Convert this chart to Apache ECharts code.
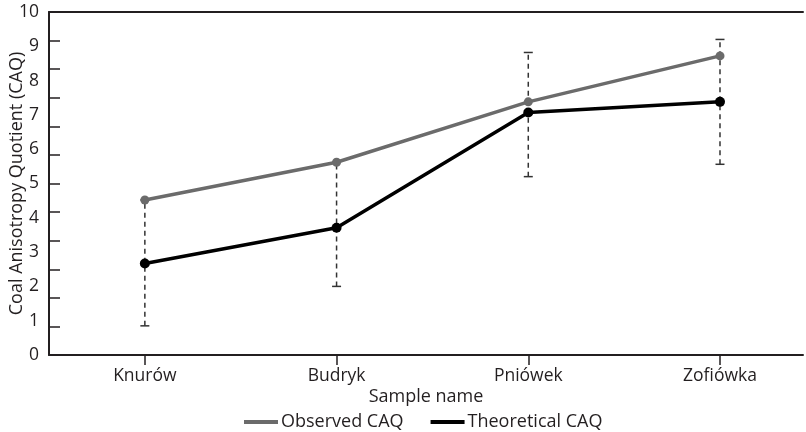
<!DOCTYPE html>
<html><head><meta charset="utf-8">
<script src="https://cdn.jsdelivr.net/npm/echarts@6/dist/echarts.min.js"></script>
<style>html,body{margin:0;padding:0;background:#fff}#c{width:806px;height:432px}</style>
</head><body><div id="c"></div>
<script>
const categories = ['Knurów', 'Budryk', 'Pniówek', 'Zofiówka'];
const observed = [4.52, 5.62, 7.38, 8.72];
const theoretical = [2.67, 3.71, 7.07, 7.38];
const errLow = [0.85, 2.0, 5.2, 5.56];
const errHigh = [4.52, 5.62, 8.82, 9.2];
const yTickLabels = [0, 1, 2, 3, 4, 5, 6, 7, 8, 9, 10];
const yMinorTicks = [0, 1, 2, 3, 4, 5, 6, 7, 8, 9, 10, 11, 12].map(k => k * 10 / 12);

const FONT = 'Open Sans';
const AX = '#231f20';
const chart = echarts.init(document.getElementById('c'), null, {renderer: 'canvas'});
const catIdx = categories.map((c, i) => i);

chart.setOption({
  animation: false,
  backgroundColor: '#fff',
  textStyle: {fontFamily: FONT},
  grid: {left: 49, right: 3, top: 12, bottom: 77, containLabel: false, outerBoundsMode: 'none'},
  legend: {
    left: 239, top: 408,
    itemWidth: 34, itemHeight: 4, itemGap: 27,
    textStyle: {fontFamily: FONT, fontSize: 18, color: '#231f20', padding: [0, 0, 0, -2]},
    data: [
      {name: 'Observed CAQ', icon: 'rect', itemStyle: {color: '#6b6b6b'}},
      {name: 'Theoretical CAQ', icon: 'rect', itemStyle: {color: '#000'}}
    ]
  },
  xAxis: [{
    type: 'value', min: -0.5, max: 3.433,
    name: 'Sample name', nameLocation: 'middle', nameGap: 33, nameMoveOverlap: false,
    nameTextStyle: {fontFamily: FONT, fontSize: 18, color: '#231f20'},
    axisLine: {show: true, onZero: false, lineStyle: {color: AX, width: 2}},
    axisTick: {show: true, inside: false, length: 10, lineStyle: {color: AX, width: 1.5}, customValues: catIdx},
    axisLabel: {fontFamily: FONT, fontSize: 17.5, color: '#231f20', margin: 12, customValues: catIdx,
      formatter: v => categories[Math.round(v)] || ''},
    splitLine: {show: false}
  }, {
    type: 'value', position: 'top', min: -0.5, max: 3.433,
    axisLine: {show: true, onZero: false, lineStyle: {color: AX, width: 2}},
    axisTick: {show: false}, axisLabel: {show: false}, splitLine: {show: false}
  }],
  yAxis: {
    type: 'value', min: 0, max: 10, interval: 1,
    name: 'Coal Anisotropy Quotient (CAQ)', nameLocation: 'middle', nameGap: 23, nameMoveOverlap: false,
    nameTextStyle: {fontFamily: FONT, fontSize: 18, color: '#231f20'},
    axisLine: {show: true, onZero: false, lineStyle: {color: AX, width: 2}},
    axisTick: {show: true, inside: true, length: 11, lineStyle: {color: AX, width: 1.5}, customValues: yMinorTicks},
    axisLabel: {fontFamily: FONT, fontSize: 17.5, color: '#231f20', margin: 10, customValues: yTickLabels},
    splitLine: {show: false}
  },
  series: [{
    type: 'custom', name: 'range', z: 1, silent: true,
    data: errLow.map((l, i) => [i, l, errHigh[i]]),
    encode: {x: 0, y: [1, 2]},
    renderItem: function (params, api) {
      const lo = api.coord([api.value(0), api.value(1)]);
      const hi = api.coord([api.value(0), api.value(2)]);
      const hw = 4.5;
      const st = {stroke: '#333', lineWidth: 1.5};
      return {type: 'group', children: [
        {type: 'line', shape: {x1: lo[0], y1: lo[1], x2: hi[0], y2: hi[1]}, style: Object.assign({lineDash: [5, 4]}, st)},
        {type: 'line', shape: {x1: lo[0] - hw, y1: lo[1], x2: lo[0] + hw, y2: lo[1]}, style: st},
        {type: 'line', shape: {x1: hi[0] - hw, y1: hi[1], x2: hi[0] + hw, y2: hi[1]}, style: st}
      ]};
    }
  }, {
    type: 'line', name: 'Observed CAQ', z: 3,
    data: observed.map((v, i) => [i, v]),
    symbol: 'circle', symbolSize: 9,
    lineStyle: {color: '#6b6b6b', width: 3.5},
    itemStyle: {color: '#6b6b6b'}
  }, {
    type: 'line', name: 'Theoretical CAQ', z: 4,
    data: theoretical.map((v, i) => [i, v]),
    symbol: 'circle', symbolSize: 10,
    lineStyle: {color: '#000', width: 3.5},
    itemStyle: {color: '#000'}
  }]
});
</script>
</body></html>
